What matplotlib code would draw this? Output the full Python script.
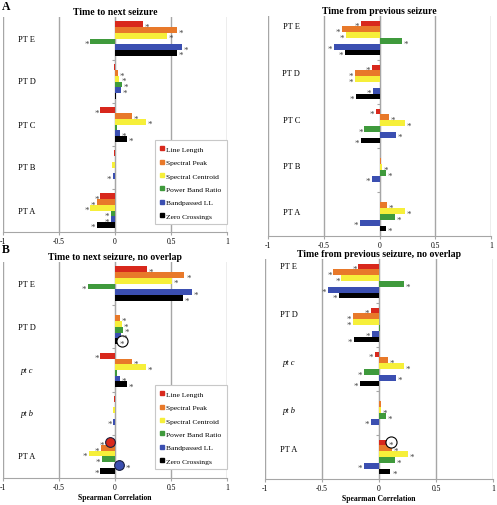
import matplotlib.pyplot as plt
from matplotlib.lines import Line2D

plt.rcParams['font.family'] = ['Liberation Serif', 'DejaVu Serif']

W, H = 497, 506

features = ['Line Length', 'Spectral Peak', 'Spectral Centroid',
            'Power Band Ratio', 'Bandpassed LL', 'Zero Crossings']
colors = ['#d8281c', '#e8792a', '#f6ef3a', '#3f9a3c', '#3b4fb1', '#000000']

patients_a = ['PT E', 'PT D', 'PT C', 'PT B', 'PT A']
patients_b = ['PT E', 'PT D', 'pt c', 'pt b', 'PT A']
xticks = [-1, -0.5, 0, 0.5, 1]
xtick_labels = ['-1', '-0.5', '0', '0.5', '1']

# rows = feature, columns = patient (E, D, C, B, A)
next_a = [[0.25, -0.01, -0.13, -0.01, -0.13],
          [0.55, 0.03, 0.15, 0.003, -0.165],
          [0.46, 0.04, 0.28, -0.025, -0.22],
          [-0.22, 0.065, 0.015, 0.002, -0.035],
          [0.60, 0.05, 0.045, -0.02, -0.035],
          [0.55, 0.01, 0.11, 0.003, -0.16]]
next_a_star = [[1, 0, 1, 0, 1],
               [1, 1, 1, 0, 1],
               [1, 1, 1, 0, 1],
               [1, 1, 0, 0, 1],
               [1, 1, 1, 1, 1],
               [1, 0, 1, 0, 1]]

prev_a = [[-0.17, -0.07, -0.035, 0.003, 0.005],
          [-0.34, -0.22, 0.085, 0.015, 0.07],
          [-0.30, -0.22, 0.225, 0.02, 0.225],
          [0.20, 0.005, -0.135, 0.06, 0.135],
          [-0.41, -0.06, 0.15, -0.07, -0.175],
          [-0.31, -0.21, -0.165, 0.0, 0.055]]
prev_a_star = [[1, 1, 1, 0, 0],
               [1, 1, 1, 0, 1],
               [1, 1, 1, 1, 1],
               [1, 0, 1, 1, 1],
               [1, 1, 1, 1, 1],
               [1, 1, 1, 0, 1]]

next_b = [[0.285, -0.003, -0.13, -0.005, -0.045],
          [0.62, 0.045, 0.15, 0.002, -0.125],
          [0.51, 0.06, 0.28, -0.02, -0.235],
          [-0.24, 0.07, 0.015, 0.002, -0.12],
          [0.69, 0.055, 0.045, -0.015, 0.04],
          [0.61, 0.025, 0.11, 0.003, -0.13]]
next_b_star = [[1, 0, 1, 0, 1],
               [1, 1, 1, 0, 1],
               [1, 1, 1, 0, 1],
               [1, 1, 0, 0, 1],
               [1, 1, 1, 1, 1],
               [1, 1, 1, 0, 1]]

prev_b = [[-0.18, -0.07, -0.035, 0.003, 0.07],
          [-0.40, -0.23, 0.08, 0.015, 0.11],
          [-0.33, -0.23, 0.22, 0.02, 0.25],
          [0.22, 0.005, -0.13, 0.06, 0.14],
          [-0.45, -0.065, 0.145, -0.07, -0.135],
          [-0.35, -0.22, -0.17, 0.0, 0.10]]
prev_b_star = [[1, 1, 1, 0, 1],
               [1, 1, 1, 0, 1],
               [1, 1, 1, 1, 1],
               [1, 0, 1, 1, 1],
               [1, 1, 1, 1, 1],
               [1, 1, 1, 0, 1]]

# highlighted values: (feature, patient, style)
next_b_marks = [(5, 1, 'open'), (0, 4, 'fill'), (4, 4, 'fill')]
prev_b_marks = [(0, 4, 'open')]

GRAY = '#a6a6a6'
fig = plt.figure(figsize=(W / 100, H / 100), dpi=100)


def panel(box, title, pats, vals, stars, marks=(), label_dy=None,
          legend=False, xlabel=False, leg_y=0.04):
    l, t, r, b = box
    ax = fig.add_axes([l / W, 1 - b / H, (r - l) / W, (b - t) / H])
    n = len(pats)
    h = 0.132
    centers = [n - 1 - i for i in range(n)]
    marked = {(f, p): s for f, p, s in marks}
    for k, feat in enumerate(features):
        ys = [c + (2.5 - k) * h for c in centers]
        ax.barh(ys, vals[k], height=h, color=colors[k], zorder=3)
        for p, (y, v, s) in enumerate(zip(ys, vals[k], stars[k])):
            if not s:
                continue
            sg = 1 if v >= 0 else -1
            style = marked.get((k, p))
            if style == 'fill':
                ax.plot(v, y, 'o', ms=7, mfc=colors[k], mec='#1a2040',
                        mew=0.8, zorder=5)
                xs = v + sg * 0.075
            else:
                xs = v + sg * 0.035
            if style == 'open':
                ax.plot(xs, y, 'o', ms=8, mfc='white', mec='black',
                        mew=0.8, zorder=5)
            ax.text(xs, y - 0.06, '*', ha='center', va='center',
                    fontsize=6.5, color='#444444', zorder=6)

    # patient labels drawn inside the plot area
    if label_dy is None:
        label_dy = [0] * n
    for c, name, dy in zip(centers, pats, label_dy):
        ital = name.startswith('pt')
        ax.text(-0.79, c + dy, name, ha='center', va='center', fontsize=6,
                style='italic' if ital else 'normal')

    ax.set_xlim(-1, 1)
    ax.set_ylim(-0.5, n - 0.5)
    for x in xticks:
        ax.axvline(x, color=GRAY, lw=1, zorder=1)
    ax.set_xticks(xticks)
    ax.set_xticklabels(xtick_labels, fontsize=5.5)
    ax.tick_params(axis='x', length=2, color=GRAY, pad=1.5)
    ax.spines['left'].set_position(('data', 0))
    ax.spines['left'].set_color(GRAY)
    ax.spines['left'].set_zorder(2)
    ax.set_yticks([c + 0.5 for c in centers[1:]])
    ax.set_yticklabels([])
    ax.tick_params(axis='y', length=2, color=GRAY)
    ax.spines['bottom'].set_color(GRAY)
    ax.spines['top'].set_visible(False)
    ax.spines['right'].set_visible(False)
    ax.patch.set_alpha(0)
    ax.set_title(title, fontsize=7, fontweight='bold', pad=2.5)
    if xlabel:
        ax.set_xlabel('Spearman Correlation', fontsize=5.5,
                      fontweight='bold', labelpad=1.5)
    if legend:
        handles = [Line2D([], [], ls='none', marker='s', ms=2.8,
                          mfc=c, mec=c) for c in colors]
        lg = ax.legend(handles, features, loc='lower right',
                       bbox_to_anchor=(1.0, leg_y), borderaxespad=0,
                       fontsize=5.4, handlelength=0.6, handletextpad=0.3,
                       labelspacing=0.95, borderpad=0.7, fancybox=False,
                       framealpha=1, edgecolor='#c8c8c8')
        lg.get_frame().set_linewidth(0.8)
        lg.set_zorder(7)
    return ax


panel((3, 18, 227, 233), 'Time to next seizure', patients_a,
      next_a, next_a_star, legend=True, leg_y=0.037)
panel((268, 17, 491, 237), 'Time from previous seizure', patients_a,
      prev_a, prev_a_star, label_dy=[0.28, 0.2, 0.14, 0.1, 0.05])
panel((3, 263, 227, 479), 'Time to next seizure, no overlap', patients_b,
      next_b, next_b_star, marks=next_b_marks, legend=True, xlabel=True,
      leg_y=0.042)
panel((265, 260, 493, 480), 'Time from previous seizure, no overlap',
      patients_b, prev_b, prev_b_star, marks=prev_b_marks, xlabel=True,
      label_dy=[0.35, 0.26, 0.16, 0.07, 0.19])

fig.text(2 / W, 1 - 7 / H, 'A', fontsize=8.5, fontweight='bold',
         va='center', ha='left')
fig.text(2 / W, 1 - 250 / H, 'B', fontsize=8.5, fontweight='bold',
         va='center', ha='left')

fig.savefig('out.png', dpi=100)
